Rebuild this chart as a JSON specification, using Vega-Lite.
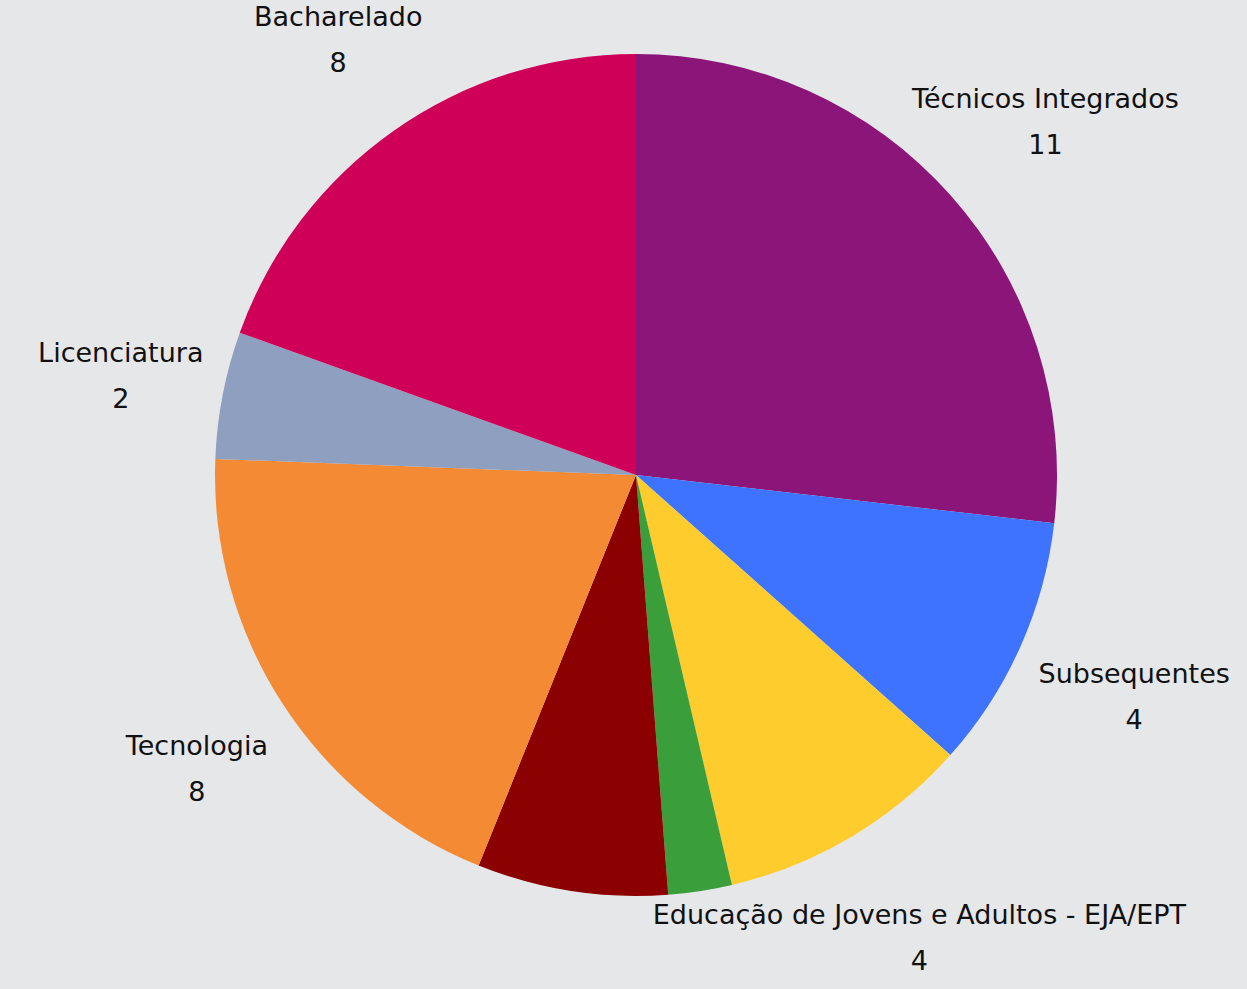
{
  "$schema": "https://vega.github.io/schema/vega-lite/v6.json",
  "width": 1222,
  "height": 950,
  "autosize": {"type": "none"},
  "padding": {"left": 25, "top": 0, "right": 0, "bottom": 39},
  "background": "#e6e7e9",
  "config": {"view": {"stroke": null}},
  "data": {
    "values": [
      {"ordem": 1, "categoria": "Técnicos Integrados", "valor": 11, "rotulo": true},
      {"ordem": 2, "categoria": "Subsequentes", "valor": 4, "rotulo": true},
      {"ordem": 3, "categoria": "Educação de Jovens e Adultos - EJA/EPT", "valor": 4, "rotulo": true},
      {"ordem": 4, "categoria": "Concomitantes", "valor": 1, "rotulo": false},
      {"ordem": 5, "categoria": "Pós-graduação", "valor": 3, "rotulo": false},
      {"ordem": 6, "categoria": "Tecnologia", "valor": 8, "rotulo": true},
      {"ordem": 7, "categoria": "Licenciatura", "valor": 2, "rotulo": true},
      {"ordem": 8, "categoria": "Bacharelado", "valor": 8, "rotulo": true}
    ]
  },
  "encoding": {
    "theta": {"field": "valor", "type": "quantitative", "stack": true},
    "order": {"field": "ordem", "type": "quantitative"}
  },
  "layer": [
    {
      "mark": {"type": "arc", "outerRadius": 421, "stroke": null},
      "encoding": {
        "color": {
          "field": "categoria",
          "type": "nominal",
          "legend": null,
          "scale": {
            "domain": ["Técnicos Integrados", "Subsequentes", "Educação de Jovens e Adultos - EJA/EPT", "Concomitantes", "Pós-graduação", "Tecnologia", "Licenciatura", "Bacharelado"],
            "range": ["#8b1578", "#3d73ff", "#ffcc2d", "#3a9e3a", "#8b0000", "#f58a35", "#8f9fbf", "#cf0058"]
          }
        }
      }
    },
    {
      "mark": {"type": "text", "radius": 535, "dx": 10, "dy": -19, "fontSize": 27, "font": "DejaVu Sans", "color": "#111111"},
      "encoding": {"text": {"condition": {"test": "datum.rotulo", "field": "categoria"}, "value": ""}}
    },
    {
      "mark": {"type": "text", "radius": 535, "dx": 10, "dy": 27, "fontSize": 27, "font": "DejaVu Sans", "color": "#111111"},
      "encoding": {"text": {"condition": {"test": "datum.rotulo", "field": "valor", "type": "quantitative"}, "value": ""}}
    }
  ]
}
